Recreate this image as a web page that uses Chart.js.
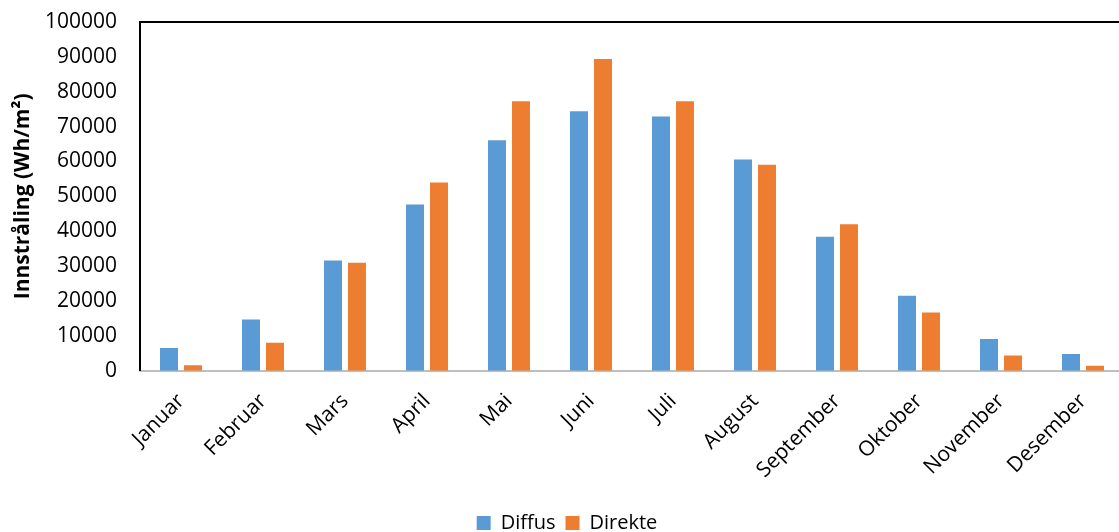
<!DOCTYPE html>
<html>
<head>
<meta charset="utf-8">
<script src="https://cdn.jsdelivr.net/npm/chart.js@4/dist/chart.umd.min.js"></script>
<style>
html,body{margin:0;padding:0;background:#fff;overflow:hidden;}
#wrap{position:relative;width:1126px;height:532px;}
</style>
</head>
<body>
<div id="wrap"><canvas id="c"></canvas></div>
<script>
const categories = ["Januar","Februar","Mars","April","Mai","Juni","Juli","August","September","Oktober","November","Desember"];
const diffus  = [6500, 14700, 31600, 47700, 66100, 74400, 72900, 60600, 38400, 21500, 9100, 4800];
const direkte = [1600, 8000, 31000, 54000, 77300, 89400, 77300, 59100, 42000, 16700, 4400, 1400];
const yTicks = [0,10000,20000,30000,40000,50000,60000,70000,80000,90000,100000];
const seriesNames = ["Diffus","Direkte"];
const yTitle = "Innstråling (Wh/m²)";

const frame = {
  id: 'frame',
  afterDraw(chart){
    const {ctx, chartArea:a} = chart;
    ctx.save();
    ctx.strokeStyle = '#000';
    ctx.lineWidth = 2;
    ctx.beginPath();
    ctx.moveTo(a.left, a.top);
    ctx.lineTo(a.right, a.top);
    ctx.lineTo(a.right, a.bottom);
    ctx.stroke();
    ctx.restore();
  }
};

new Chart(document.getElementById('c'), {
  type: 'bar',
  data: {
    labels: categories,
    datasets: [
      {label: seriesNames[0], data: diffus, backgroundColor: '#5B9BD5', categoryPercentage: 0.585, barPercentage: 0.75},
      {label: seriesNames[1], data: direkte, backgroundColor: '#ED7D31', categoryPercentage: 0.585, barPercentage: 0.75}
    ]
  },
  options: {
    responsive: true,
    maintainAspectRatio: false,
    animation: false,
    layout: {padding: {top: 22, left: 10, right: 2, bottom: -11}},
    plugins: {
      tooltip: {enabled: false},
      legend: {
        position: 'bottom',
        labels: {
          font: {family: 'Open Sans', size: 20},
          color: '#000',
          boxWidth: 14, boxHeight: 14,
          padding: 10
        }
      }
    },
    scales: {
      x: {
        afterFit(s){ s.paddingLeft = 0; s.paddingRight = 0; s.height += 2; },
        grid: {display: false, drawTicks: false},
        border: {display: true, color: '#BFBFBF', width: 2},
        ticks: {
          font: {family: 'Open Sans', size: 21},
          color: '#000',
          minRotation: 45, maxRotation: 45,
          padding: 18
        }
      },
      y: {
        min: 0, max: 100000,
        afterFit(s){ s.paddingTop = 0; s.paddingBottom = 0; s.width = 130; },
        afterBuildTicks(axis){ axis.ticks = yTicks.map(v => ({value: v})); },
        grid: {display: false, drawTicks: false},
        border: {display: true, color: '#000', width: 2},
        ticks: {
          font: {family: 'Open Sans', size: 21},
          color: '#000',
          padding: 23,
          callback: v => String(v)
        },
        title: {
          display: true,
          text: yTitle,
          font: {family: 'Open Sans', size: 21, weight: 'bold'},
          color: '#000',
          padding: {top: 0, bottom: 10}
        }
      }
    }
  },
  plugins: [frame]
});
</script>
</body>
</html>
